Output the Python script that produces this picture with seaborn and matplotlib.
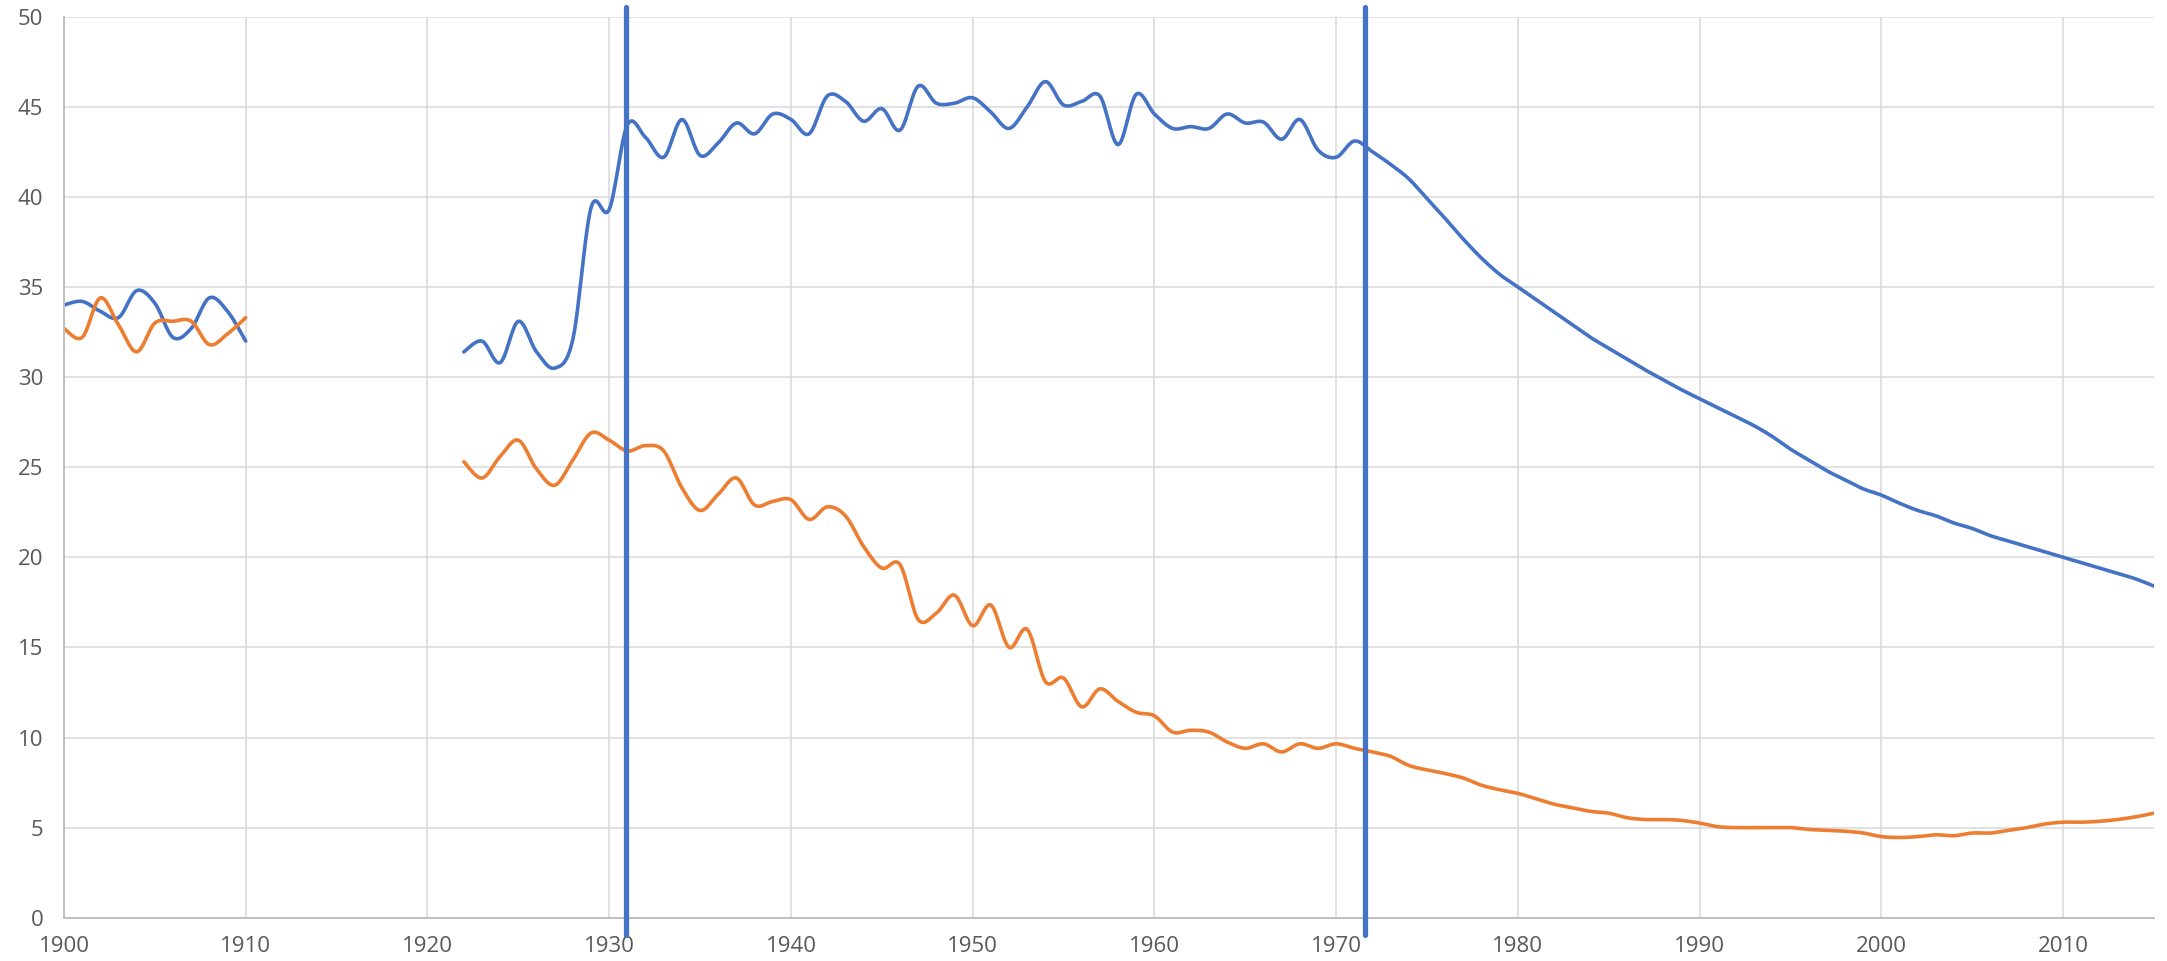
import numpy as np
import pandas as pd
import seaborn as sns
import matplotlib.pyplot as plt

# yearly values (two separate stretches, gap 1911-1921)
years_a = list(range(1900, 1911))
blue_a = [34.0, 34.2, 33.65, 33.3, 34.8, 34.1, 32.2, 32.7, 34.4, 33.65, 32.0]
orange_a = [32.7, 32.2, 34.4, 32.9, 31.4, 33.0, 33.1, 33.1, 31.8, 32.4, 33.3]

years_b = list(range(1922, 2016))
blue_b = [31.4, 32.0, 30.8, 33.1, 31.4, 30.5, 32.1, 39.4, 39.3,
          44.0, 43.3, 42.2, 44.3, 42.3, 43.0, 44.1, 43.5, 44.6, 44.3,
          43.5, 45.6, 45.3, 44.2, 44.9, 43.7, 46.15, 45.2, 45.2, 45.5,
          44.7, 43.8, 45.0, 46.4, 45.1, 45.3, 45.6, 42.9, 45.7, 44.6,
          43.8, 43.9, 43.8, 44.6, 44.1, 44.15, 43.2, 44.3, 42.6, 42.2,
          43.1, 42.5, 41.8, 41.0, 39.9, 38.8, 37.65, 36.6, 35.7, 35.0,
          34.3, 33.6, 32.9, 32.2, 31.6, 31.0, 30.4, 29.85, 29.3, 28.8,
          28.3, 27.8, 27.3, 26.7, 26.0, 25.4, 24.8, 24.3, 23.8, 23.45,
          23.0, 22.6, 22.3, 21.9, 21.6, 21.2, 20.9, 20.6, 20.3, 20.0,
          19.7, 19.4, 19.1, 18.8, 18.4]
orange_b = [25.3, 24.4, 25.6, 26.5, 24.9, 24.0, 25.4, 26.9, 26.5,
            25.9, 26.2, 25.9, 23.85, 22.6, 23.5, 24.4, 22.9, 23.1, 23.2,
            22.1, 22.8, 22.3, 20.6, 19.4, 19.6, 16.55, 16.9, 17.9, 16.2,
            17.35, 15.0, 16.0, 13.1, 13.3, 11.7, 12.7, 12.0, 11.4, 11.2,
            10.3, 10.4, 10.3, 9.75, 9.4, 9.65, 9.2, 9.65, 9.4, 9.65,
            9.4, 9.2, 8.95, 8.45, 8.2, 8.0, 7.75, 7.35, 7.1, 6.9,
            6.6, 6.3, 6.1, 5.9, 5.8, 5.55, 5.45, 5.45, 5.4, 5.25,
            5.05, 5.0, 5.0, 5.0, 5.0, 4.9, 4.85, 4.8, 4.7, 4.5,
            4.45, 4.5, 4.6, 4.55, 4.7, 4.7, 4.85, 5.0, 5.2, 5.3,
            5.3, 5.35, 5.45, 5.6, 5.8]

marker_years = [1930.9, 1971.6]

BLUE = "#4472C4"
ORANGE = "#ED7D31"


def smooth(xs, ys, n=12):
    """Excel-style smoothed line: cardinal (Catmull-Rom) curve through the points."""
    x = np.asarray(xs, float)
    y = np.asarray(ys, float)
    xp = np.concatenate([[x[0]], x, [x[-1]]])
    yp = np.concatenate([[y[0]], y, [y[-1]]])
    out_x, out_y = [], []
    t = np.linspace(0, 1, n, endpoint=False)
    for i in range(len(x) - 1):
        p0, p1, p2, p3 = yp[i], yp[i + 1], yp[i + 2], yp[i + 3]
        q0, q1, q2, q3 = xp[i], xp[i + 1], xp[i + 2], xp[i + 3]
        for a, b, c, d, o in ((p0, p1, p2, p3, out_y), (q0, q1, q2, q3, out_x)):
            m1 = (c - a) / 2
            m2 = (d - b) / 2
            h00 = 2 * t**3 - 3 * t**2 + 1
            h10 = t**3 - 2 * t**2 + t
            h01 = -2 * t**3 + 3 * t**2
            h11 = t**3 - t**2
            o.extend(h00 * b + h10 * m1 + h01 * c + h11 * m2)
    out_x.append(x[-1])
    out_y.append(y[-1])
    return out_x, out_y


# build a long table: one row per drawn point, split by stretch so the gap stays open
rows = []
for name, seg, xs, ys in [("blue", "a", years_a, blue_a), ("blue", "b", years_b, blue_b),
                          ("orange", "a", years_a, orange_a), ("orange", "b", years_b, orange_b)]:
    sx, sy = smooth(xs, ys)
    for i, (xx, yy) in enumerate(zip(sx, sy)):
        rows.append({"series": name, "segment": name + seg, "year": xx, "value": yy, "order": i})
df = pd.DataFrame(rows)

sns.set_style("whitegrid", {"grid.color": "#D9D9D9", "axes.edgecolor": "#BFBFBF"})
plt.rcParams["font.family"] = ["Open Sans", "DejaVu Sans"]

fig = plt.figure(figsize=(21.67, 9.61), dpi=100)
ax = fig.add_axes([0.02953, 0.04505, 0.96447, 0.93757])

sns.lineplot(data=df, x="year", y="value", hue="series", units="segment",
             estimator=None, sort=False, palette={"blue": BLUE, "orange": ORANGE},
             linewidth=2.6, legend=False, ax=ax)

for yr in marker_years:
    ax.axvline(yr, ymin=-0.0192, ymax=1.0108, color=BLUE, linewidth=3.8,
               clip_on=False, zorder=5)

ax.set_xlim(1900, 2015)
ax.set_ylim(0, 50)
ax.set_xticks(range(1900, 2011, 10))
ax.set_yticks(range(0, 51, 5))
ax.set_xlabel("")
ax.set_ylabel("")
ax.grid(True, linewidth=1.1)
for side in ["top", "right"]:
    ax.spines[side].set_visible(False)
for side in ["left", "bottom"]:
    ax.spines[side].set_linewidth(1.4)
ax.tick_params(axis="both", length=0, labelsize=16, labelcolor="#595959")
ax.tick_params(axis="x", pad=13)
ax.tick_params(axis="y", pad=15)

plt.savefig("out.png", dpi=100)
